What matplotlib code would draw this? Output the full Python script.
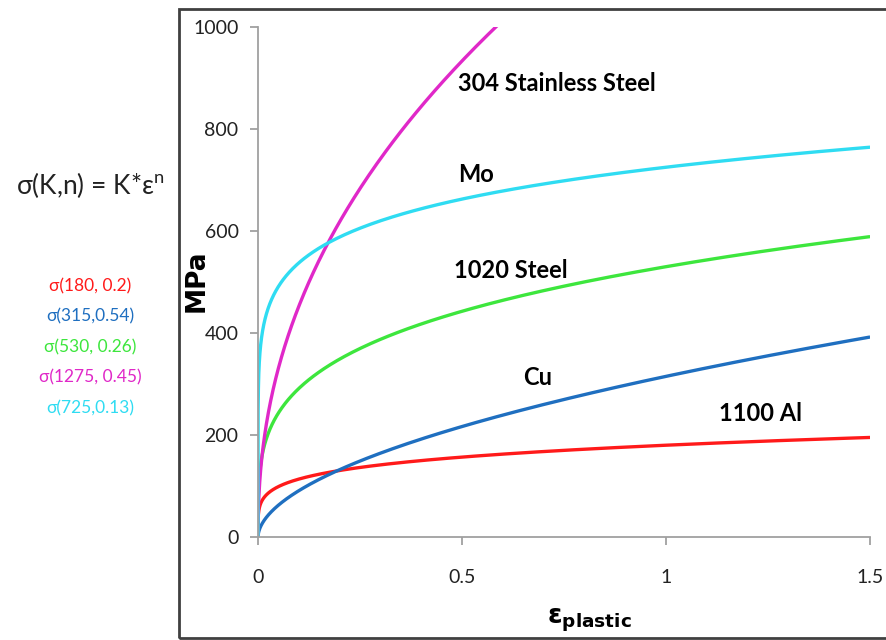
import numpy as np
import matplotlib.pyplot as plt
from matplotlib.patches import Rectangle

# strength coefficient K [MPa] and hardening exponent n, as written on the chart
materials = ["1100 Al", "Cu", "1020 Steel", "304 Stainless Steel", "Mo"]
K = [180, 315, 530, 1275, 725]
n = [0.2, 0.54, 0.26, 0.45, 0.13]
legend_text = ["σ(180, 0.2)", "σ(315,0.54)", "σ(530, 0.26)", "σ(1275, 0.45)", "σ(725,0.13)"]
colors = ["#ff1a1a", "#1f6fc0", "#3de63d", "#e028c8", "#2fdcf2"]

x_ticks = [0, 0.5, 1, 1.5]
x_tick_labels = ["0", "0.5", "1", "1.5"]
y_ticks = [0, 200, 400, 600, 800, 1000]

# where the curve names sit (data coords)
label_pos = [(1.13, 243), (0.65, 312), (0.48, 523), (0.49, 890), (0.49, 710)]

plt.rcParams['font.family'] = ['Lato', 'DejaVu Sans']

fig = plt.figure(figsize=(8.87, 6.40), dpi=100)
ax = fig.add_axes([0.2909, 0.1609, 0.69, 0.797])

strain = np.concatenate([[0], np.geomspace(1e-6, 1.5, 800)])
for k, e, c in zip(K, n, colors):
    ax.plot(strain, k * strain ** e, color=c, lw=2.4, solid_capstyle='butt')

for name, (lx, ly) in zip(materials, label_pos):
    ax.text(lx, ly, name, fontsize=17, fontweight='bold', ha='left', va='center')

ax.set_xlim(0, 1.5)
ax.set_ylim(0, 1000)
ax.set_xticks(x_ticks)
ax.set_xticklabels(x_tick_labels)
ax.set_yticks(y_ticks)
for s in ['top', 'right']:
    ax.spines[s].set_visible(False)
for s in ['left', 'bottom']:
    ax.spines[s].set_color('#a0a0a0')
    ax.spines[s].set_linewidth(1.3)
ax.tick_params(axis='both', direction='out', color='#a0a0a0', width=1.3, length=6,
               labelsize=14, labelcolor='#222222')
ax.tick_params(axis='x', pad=17)
ax.tick_params(axis='y', pad=8)

fig.text(0.222, 0.562, "MPa", rotation=90, fontsize=19, fontweight='bold',
         family='DejaVu Sans', ha='center', va='center')
fig.text(0.664, 0.03, r"$\mathbf{\varepsilon_{plastic}}$", fontsize=19, ha='center', va='center')

# outer frame around the plot area
fig.patches.append(Rectangle((179 / 887, 2 / 640), 1.0, 629 / 640, transform=fig.transFigure,
                             fill=False, edgecolor='#404040', lw=2))

fig.text(90 / 887, 1 - 185 / 640, r"σ(K,n) = K*ε$^{\mathregular{n}}$", fontsize=19,
         ha='center', va='center', color='#222222')
for i, (t, c) in enumerate(zip(legend_text, colors)):
    fig.text(90 / 887, 1 - (286 + i * 30.5) / 640, t, fontsize=12.5, color=c,
             ha='center', va='center')

fig.savefig("out.png", dpi=100)
